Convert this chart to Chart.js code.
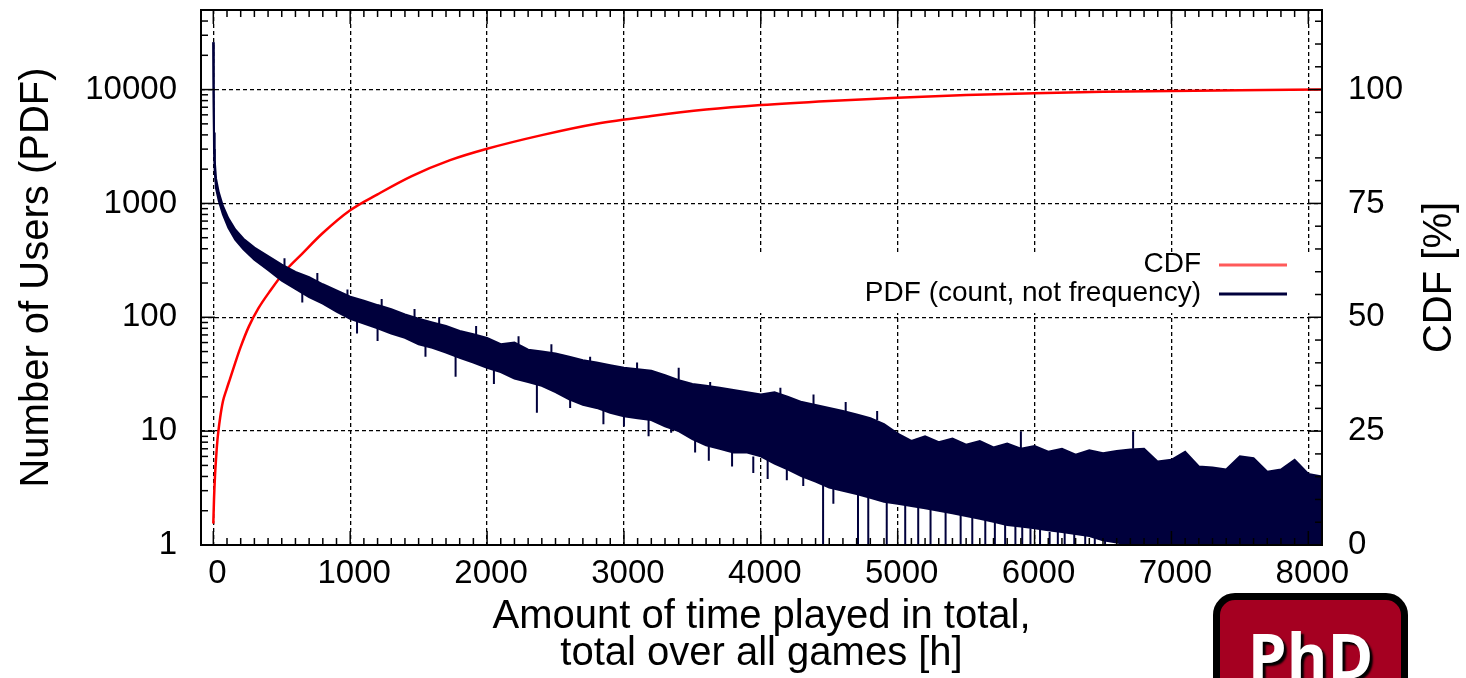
<!doctype html>
<html lang="en">
  <head>
    <meta charset="utf-8">
    <title>Time played in total - PDF / CDF</title>
    <style>
      body{
        margin: 0;
        background: #fff;
        overflow: hidden;
      }
      .wrap{
        position: relative;
        width: 1466px;
        height: 678px;
      }
      .phd{
        position: absolute;
        left: 1213px;
        top: 593px;
        width: 181px;
        height: 120px;
        background: #a50021;
        border: 7px solid #000;
        border-radius: 22px;
        color: #fff;
        font: bold 62px "Open Sans", "DejaVu Sans", sans-serif;
        line-height: 62px;
        text-align: center;
        padding-top: 24px;
        box-sizing: content-box;
        text-shadow: 3px 3px 2px #000;
      }
    </style>
  </head>
  <body>
    <div class="wrap">
      <canvas id="myChart"></canvas>
      <div class="phd">PhD</div>
    </div>

    <script src="https://cdn.jsdelivr.net/npm/chart.js"></script>
    <script>
      // ---- data ----
      // PDF: users per hour-bin, drawn as a band (upper / lower edge of the noise)
      const pdfHours = [0, 2, 5, 10, 20, 40, 70, 110, 160, 220, 300, 400, 500, 600, 700, 800, 900,
        1000, 1100, 1200, 1300, 1400, 1500, 1600, 1700, 1800, 1900, 2000, 2100, 2200, 2300, 2400,
        2500, 2600, 2700, 2800, 2900, 3000, 3100, 3200, 3300, 3400, 3500, 3600, 3700, 3800, 3900,
        4000, 4100, 4200, 4300, 4400, 4500, 4600, 4700, 4800, 4900,
        5000, 5100, 5200, 5300, 5400, 5500, 5600, 5700, 5800, 5900,
        6000, 6100, 6200, 6300, 6400, 6500, 6600, 6700, 6800, 6900,
        7000, 7100, 7200, 7300, 7400, 7500, 7600, 7700, 7800, 7900, 8000, 8100];
      const pdfUpper = [26000, 12000, 4200, 2400, 1650, 1250, 950, 740, 590, 490, 410, 345, 290, 250, 225, 195, 172,
        152, 140, 128, 118, 106, 97, 90, 84, 76, 71, 66, 58, 60, 52, 50,
        48, 45, 42, 40, 38, 36, 35, 34, 31, 28, 26, 25, 24, 23, 22,
        21, 22, 20, 18, 17, 16, 15, 14, 13, 11.5,
        9.5, 8.2, 9, 8, 8.6, 7.6, 8.2, 7.2, 7.8, 7,
        7.4, 6.6, 7, 6.2, 6.8, 6.4, 6.7, 6.9, 7, 5.4,
        5.6, 6.6, 4.9, 4.8, 4.6, 6, 5.8, 4.4, 4.6, 5.6, 4.2, 4];
      const pdfLower = [26000, 9000, 3000, 1900, 1350, 1050, 800, 610, 480, 395, 320, 260, 210, 178, 150, 132, 112,
        97, 88, 80, 72, 66, 58, 54, 49, 44, 40, 36, 33, 29, 27, 25,
        22, 19, 17, 16, 14.5, 13.5, 13, 12.5, 11, 10, 8.5, 7.5, 7, 6.5, 6.5,
        6, 5.2, 4.6, 4, 3.6, 3.2, 3, 2.8, 2.6, 2.4,
        2.3, 2.2, 2.1, 2, 1.9, 1.8, 1.7, 1.6, 1.5, 1.45,
        1.4, 1.35, 1.3, 1.25, 1.2, 1.1, 1.05, 1, 1, 1,
        1, 1, 1, 1, 1, 1, 1, 1, 1, 1, 1, 1];

      // single bins that stick out of the band (vertical strokes)
      const spikeHours  = [2230, 2364, 2470, 3000, 3345, 3400, 3620, 3790, 3945, 4190, 4310, 4455, 4530, 4710, 4785,
        4920, 5055, 5150, 5240, 5350, 5460, 5545, 5640, 5710, 5785, 5860, 5900, 5910, 5970, 6040,
        6110, 6170, 6220, 6290, 6370, 6440, 6515, 6720,
        520, 760, 980, 1230, 1470, 1650, 1920, 2753, 3096, 3630, 4143, 4385, 4620, 4850,
        650, 1050, 1200, 1550, 1770, 2050, 2607, 2850, 3180, 3520, 4050];
      const spikeTop    = [68, 30, 58, 14, 11, 36, 8, 7, 6, 5, 4.2, 3.6, 3.2, 2.8, 2.6,
        2.4, 2.3, 2.2, 2.1, 2, 1.9, 1.8, 1.7, 1.6, 1.5, 1.5, 10, 1.5, 1.4, 1.4,
        1.3, 1.3, 1.3, 1.3, 1.2, 1.2, 1.1, 10,
        330, 245, 175, 145, 118, 100, 84, 45, 40, 27, 24, 21, 18, 15,
        165, 92, 80, 58, 47, 35, 20, 16, 13, 8.5, 5.8];
      const spikeBottom = [58, 14.5, 48, 11, 9.7, 28, 5.5, 4.9, 4.3, 3.7, 3.3, 1, 2.3, 1, 1,
        1, 1, 1, 1, 1, 1, 1, 1, 1, 1, 1, 7, 1, 1, 1,
        1, 1, 1, 1, 1, 1, 1, 7,
        280, 200, 150, 120, 100, 85, 70, 40, 34, 24, 21, 17, 15, 12.5,
        135, 72, 62, 45, 30, 26, 16, 11.5, 9, 6.5, 3.8];

      // CDF in percent
      const cdfHours = [0, 5, 12, 20, 30, 37, 50, 70, 95, 122, 160, 200, 260, 330, 420, 520, 650, 800,
        1000, 1200, 1450, 1730, 2000, 2400, 2800, 3200, 3600, 4000, 4500, 5000, 5500, 6000, 6500,
        7000, 7500, 8100];
      const cdfPercent = [4.7, 10, 15, 19, 23, 25, 28, 31.5, 34, 36.5, 40, 43.5, 48, 52, 56, 60, 64, 68.5,
        73.5, 77, 81, 84.5, 87, 90, 92.5, 94.2, 95.6, 96.6, 97.5, 98.2, 98.8, 99.2, 99.5,
        99.7, 99.85, 100];

      // axes
      const xTicks = [0, 1000, 2000, 3000, 4000, 5000, 6000, 7000, 8000];
      const yTicks = [1, 10, 100, 1000, 10000];
      const y2Ticks = [0, 25, 50, 75, 100];
      const seriesNames = ['CDF', 'PDF (count, not frequency)'];

      const NAVY = '#00003c';
      const RED = '#ff0000';
      const FONT = '"Liberation Sans", Arial, sans-serif';

      Chart.defaults.font.family = FONT;
      Chart.defaults.color = '#000';

      const upperPts = pdfHours.map(function(h, i){ return {x: h, y: pdfUpper[i]}; });
      const lowerPts = pdfHours.map(function(h, i){ return {x: h, y: pdfLower[i]}; });
      const spikePts = [];
      spikeHours.forEach(function(h, i){
        spikePts.push({x: h, y: spikeTop[i]}, {x: h, y: spikeBottom[i]}, {x: h, y: null});
      });
      const cdfPts = cdfHours.map(function(h, i){ return {x: h, y: cdfPercent[i]}; });

      // frame, inward ticks (gnuplot style), key and right title
      const gnuFrame = {
        id: 'gnuFrame',
        beforeDatasetsDraw(chart){
          const ctx = chart.ctx, a = chart.chartArea;
          // key box is opaque and hides the grid
          ctx.save();
          ctx.fillStyle = '#fff';
          ctx.fillRect(a.right - 574, 254, 566, 59);
          ctx.restore();
        },
        afterDatasetsDraw(chart){
          const ctx = chart.ctx, a = chart.chartArea;
          const xs = chart.scales.x, yl = chart.scales.y, yr = chart.scales.y2;
          ctx.save();
          ctx.strokeStyle = '#000';
          ctx.lineWidth = 1.5;
          function seg(x1, y1, x2, y2){
            ctx.beginPath(); ctx.moveTo(x1, y1); ctx.lineTo(x2, y2); ctx.stroke();
          }
          for (let v = 0; v <= xs.max; v += 100){
            const px = xs.getPixelForValue(v);
            const len = v % 1000 === 0 ? 14 : 7;
            seg(px, a.bottom, px, a.bottom - len);
            seg(px, a.top, px, a.top + len);
          }
          for (let d = 1; d <= yl.max; d *= 10){
            for (let k = 1; k <= 9; k++){
              const v = d * k;
              if (v >= yl.max) break;
              const py = yl.getPixelForValue(v);
              seg(a.left, py, a.left + (k === 1 ? 14 : 7), py);
            }
          }
          for (let v = 0; v <= yr.max; v += 5){
            const py = yr.getPixelForValue(v);
            seg(a.right, py, a.right - (v % 25 === 0 ? 14 : 7), py);
          }
          ctx.lineWidth = 2;
          ctx.strokeRect(a.left, a.top, a.right - a.left, a.bottom - a.top);

          // key
          ctx.font = '28px ' + FONT;
          ctx.fillStyle = '#000';
          ctx.textAlign = 'right';
          ctx.textBaseline = 'middle';
          ctx.fillText(seriesNames[0], a.right - 121, 264);
          ctx.fillText(seriesNames[1], a.right - 121, 293);
          ctx.lineWidth = 3;
          ctx.strokeStyle = '#ff5a5a';
          seg(a.right - 103, 265, a.right - 35, 265);
          ctx.strokeStyle = NAVY;
          seg(a.right - 103, 294, a.right - 35, 294);

          // right axis title reads bottom to top
          ctx.translate(1440, (a.top + a.bottom) / 2);
          ctx.rotate(-Math.PI / 2);
          ctx.font = '40px ' + FONT;
          ctx.textAlign = 'center';
          ctx.fillText('CDF [%]', 0, 0);
          ctx.restore();
        }
      };

      const gridStyle = { color: '#000', lineWidth: 1.3, drawTicks: false };

      // labels may hang over the plot edge, so no extra room for them
      function noPad(s){
        s.paddingTop = 0; s.paddingBottom = 0; s.paddingLeft = 0; s.paddingRight = 0;
      }

      new Chart(document.getElementById('myChart'), {
        type: 'line',
        data: {
          datasets: [
            { label: 'PDF upper', data: upperPts, yAxisID: 'y', borderColor: NAVY, borderWidth: 2,
              pointRadius: 0, fill: false, tension: 0 },
            { label: seriesNames[1], data: lowerPts, yAxisID: 'y', borderColor: NAVY, borderWidth: 2,
              backgroundColor: NAVY, pointRadius: 0, fill: '-1', tension: 0 },
            { label: 'PDF spikes', data: spikePts, yAxisID: 'y', borderColor: NAVY, borderWidth: 2,
              pointRadius: 0, fill: false, spanGaps: false },
            { label: seriesNames[0], data: cdfPts, yAxisID: 'y2', borderColor: RED, borderWidth: 2.5,
              pointRadius: 0, fill: false, cubicInterpolationMode: 'monotone' }
          ]
        },
        options: {
          responsive: true,
          maintainAspectRatio: false,
          animation: false,
          layout: { padding: { top: 10, left: 0, right: 0, bottom: 0 } },
          plugins: { legend: { display: false }, tooltip: { enabled: false } },
          scales: {
            x: {
              type: 'linear',
              min: -90,
              max: 8100,
              grid: gridStyle,
              border: { display: false, dash: [4, 3] },
              afterBuildTicks: function(s){ s.ticks = xTicks.map(function(v){ return {value: v}; }); },
              afterFit: function(s){ s.height = 133; noPad(s); },
              ticks: { autoSkip: false, maxRotation: 0, padding: 9, labelOffset: 4,
                font: { size: 33 }, callback: function(v){ return String(v); } },
              title: { display: true, text: ['Amount of time played in total,', 'total over all games [h]'],
                font: { size: 40, lineHeight: 0.925 }, padding: { top: 0, bottom: 6 } }
            },
            y: {
              type: 'logarithmic',
              position: 'left',
              min: 1,
              max: 50000,
              grid: gridStyle,
              border: { display: false, dash: [4, 3] },
              afterBuildTicks: function(s){ s.ticks = yTicks.map(function(v){ return {value: v}; }); },
              afterFit: function(s){ s.width = 201; noPad(s); },
              ticks: { padding: 24, font: { size: 33 }, callback: function(v){ return String(v); } },
              title: { display: true, text: 'Number of Users (PDF)', font: { size: 40 },
                padding: { top: 13, bottom: 0 } }
            },
            y2: {
              type: 'linear',
              position: 'right',
              min: 0,
              max: 117.47,
              grid: { display: false, drawTicks: false },
              border: { display: false },
              afterBuildTicks: function(s){ s.ticks = y2Ticks.map(function(v){ return {value: v}; }); },
              afterFit: function(s){ s.width = 144; noPad(s); },
              ticks: { padding: 26, font: { size: 33 }, callback: function(v){ return String(v); } }
            }
          }
        },
        plugins: [gnuFrame]
      });
    </script>
  </body>
</html>
